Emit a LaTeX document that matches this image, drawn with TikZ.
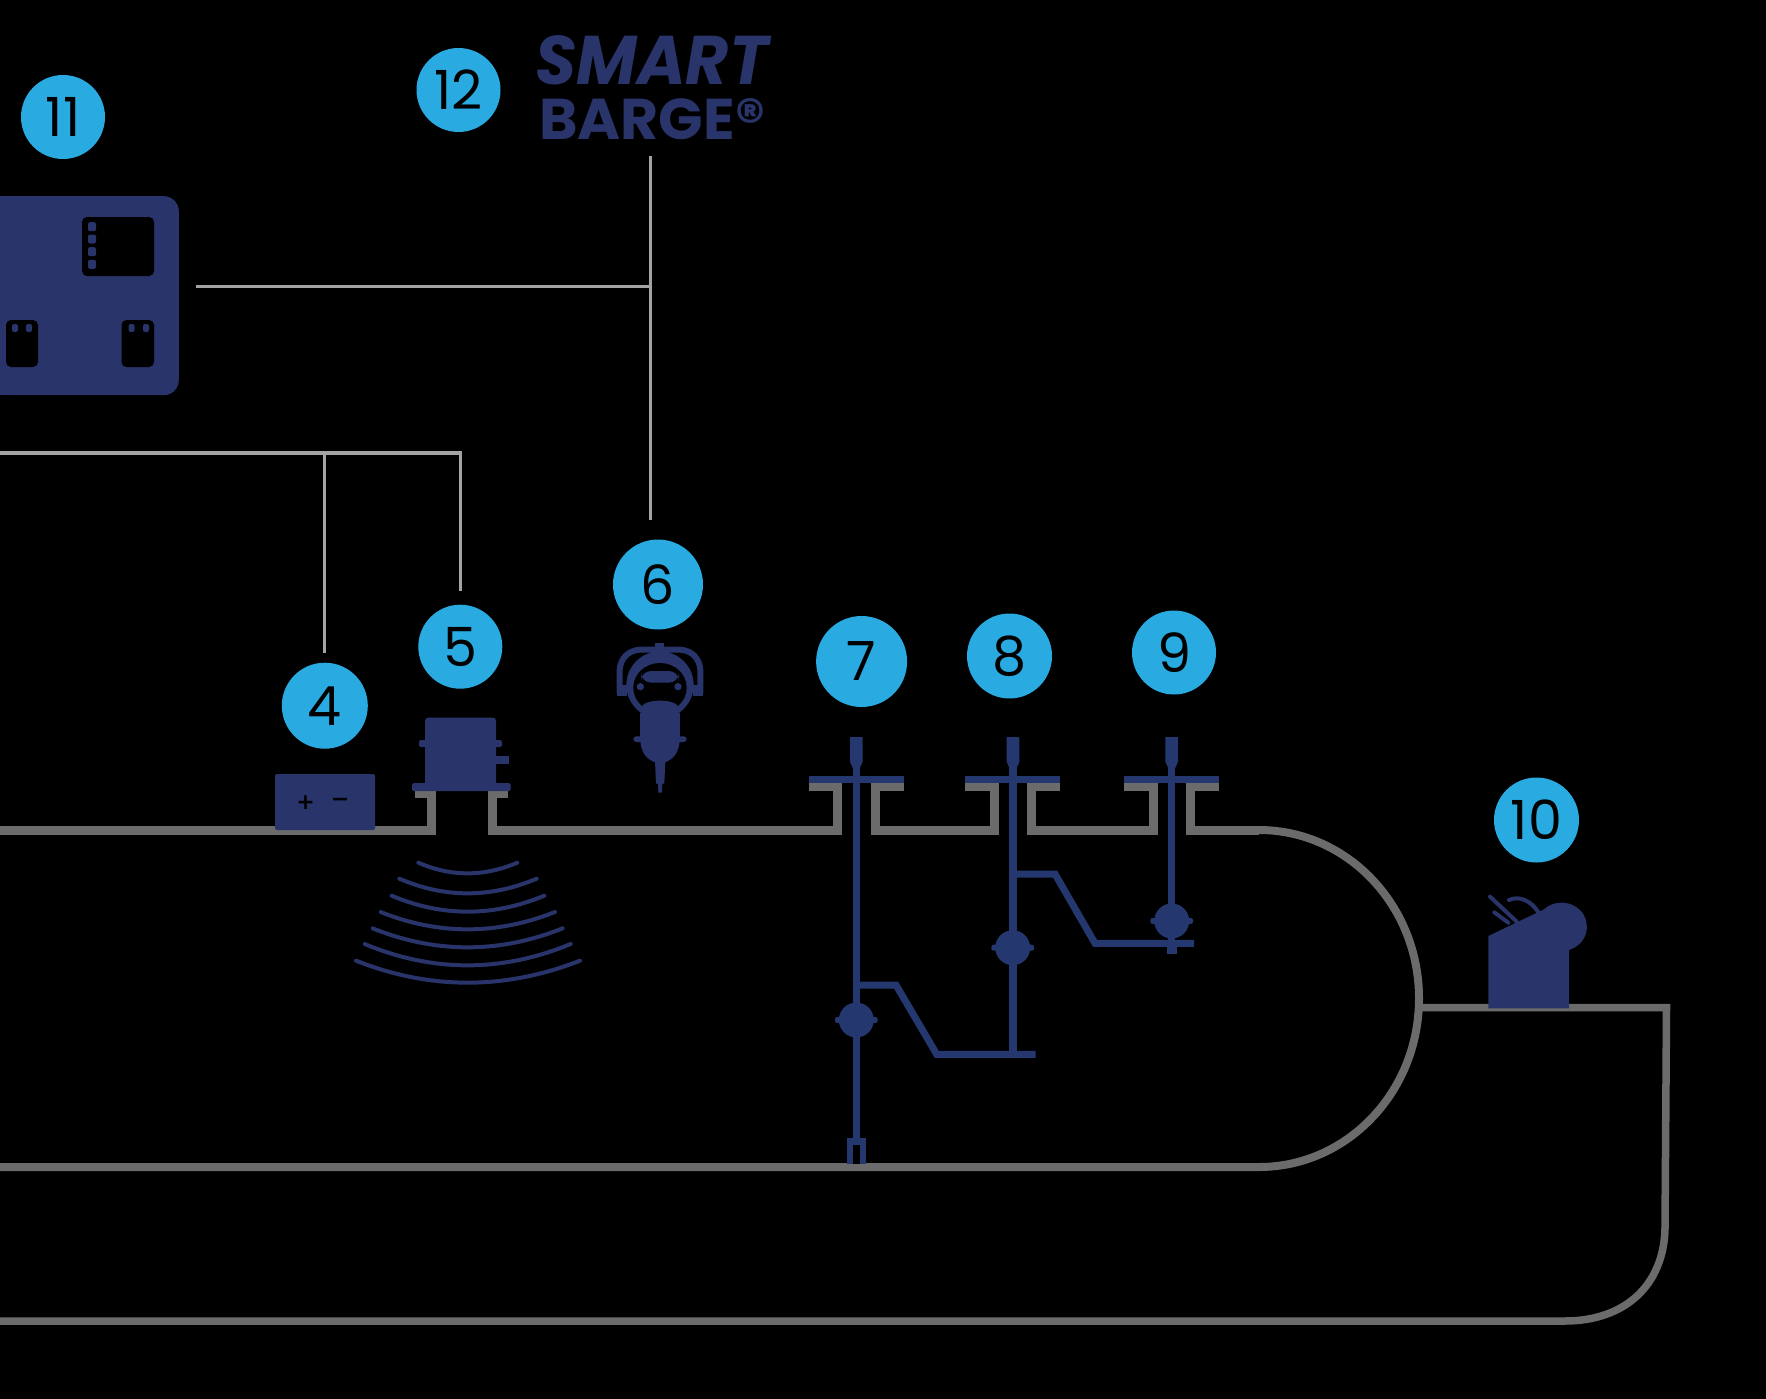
\documentclass[tikz,border=0pt]{standalone}
\usepackage{graphicx}
\usepackage{fontspec}
\setmainfont{Poppins}
\newfontfamily\symfont{DejaVu Sans}
\definecolor{navy}{HTML}{28346A}
\definecolor{rodblue}{HTML}{25376F}
\definecolor{cyanb}{HTML}{29ABE2}
\definecolor{hullgray}{HTML}{6B6B6B}
\definecolor{linkgray}{HTML}{A3A3A3}
\tikzset{
  badge/.style={circle,fill=cyanb,inner sep=0pt,text=black,font=\fontsize{#1}{#1}\selectfont},
  badge/.default=54,
  link/.style={draw=linkgray,line width=3.2pt},
  hull/.style={draw=hullgray,line width=9pt,miter limit=10},
  hullthin/.style={draw=hullgray,line width=7.5pt},
  rod/.style={draw=rodblue,line width=7.5pt},
  rodthin/.style={draw=rodblue,line width=7pt},
  wave/.style={draw=navy,line width=4pt,line cap=round},
  navyfill/.style={fill=navy,draw=none},
  hole/.style={fill=black,draw=none,rounded corners=5pt},
  pip/.style={fill=navy,draw=none,rounded corners=2pt},
  logotext/.style={inner sep=0pt,text=navy,font=\fontsize{60}{60}\selectfont\bfseries},
}
\newcommand{\ballvalve}[2]{%
  \fill[rodblue] (#1,#2) circle (17.5pt);
  \fill[rodblue,rounded corners=2pt] ({#1-21.3},{#2-3}) rectangle ({#1+21.3},{#2+3});
}
\begin{document}
\begin{tikzpicture}[x=1pt,y=-1pt]
\useasboundingbox (0,0) rectangle (1766,1399);
\fill[black] (0,0) rectangle (1766,1399);

% lower hull
\draw[hullthin] (1419,1007.5) -- (1666.5,1007.5) -- (1665,1228)
  .. controls (1664,1285) and (1625,1321) .. (1565,1321) -- (0,1321);
% tank
\draw[hull] (0,830) -- (431,830) -- (431,793) -- (415,793);
\draw[hull] (508,793) -- (492,793) -- (492,830) -- (837.5,830) -- (837.5,786) -- (809,786);
\draw[hull] (903.7,786) -- (875.5,786) -- (875.5,830) -- (994,830) -- (994,786) -- (965,786);
\draw[hull] (1060,786) -- (1031,786) -- (1031,830) -- (1153,830) -- (1153,786) -- (1124,786);
\draw[hull] (1218.7,786) -- (1190,786) -- (1190,830) -- (1259,830);
\draw[hullgray,line width=8pt] (1259,830) arc[start angle=90,end angle=-90,x radius=160,y radius=-168.5]
  -- (0,1167);

% controller
\node[navyfill,rounded corners=15pt,minimum width=178.6pt,minimum height=199pt,inner sep=0pt,anchor=north west] (ctrl) at (0,196) {};
\fill[navy] (0,196) rectangle (30,395);
\fill[hole] (82,217) rectangle (154,276);
\foreach \y in {226.7,239,251.7,264.3} \fill[pip] (88,\y-4.5) rectangle (96,\y+4.5);
\fill[hole] (6,320) rectangle (38,367);
\fill[hole] (121.5,320) rectangle (154,367);
\foreach \x in {15,29,131.6,146} \fill[pip] (\x-3,324) rectangle (\x+3,332);

% logo
\node[logotext,anchor=north west] (logoa) at (535,35) {\resizebox{233pt}{49pt}{\itshape SMART}};
\node[logotext,anchor=north west] (logob) at (539,98) {\resizebox{226pt}{41pt}{BARGE®}};

% badges
\node[badge,minimum size=84pt] (n11) at (63,117) {11};
\node[badge,minimum size=84pt] (n12) at (458.5,90) {12};
\node[badge,minimum size=90pt] (n6) at (658,584.5) {6};
\node[badge,minimum size=84pt] (n5) at (460.3,646.7) {5};
\node[badge,minimum size=86pt] (n4) at (324.8,705.7) {4};
\node[badge,minimum size=91pt] (n7) at (861.6,661.5) {7};
\node[badge,minimum size=85pt] (n8) at (1009.5,656) {8};
\node[badge,minimum size=84pt] (n9) at (1174,652.5) {9};
\node[badge,minimum size=85pt] (n10) at (1536.5,820) {10};

% links
\coordinate (j1) at (650.5,286.5);
\coordinate (left) at (0,453);
\coordinate (corner) at (n5.north |- left);
\coordinate (j2) at (n4.north |- left);
\draw[link,shorten <=16pt] (logob.south -| j1) -- (j1);
\draw[link,shorten >=19.5pt] (j1) -- (n6.north -| j1);
\draw[link,shorten <=17.4pt] (ctrl.east |- j1) -- (j1);
\draw[link,shorten >=13.5pt] (left) -- (corner) -- (n5.north);
\draw[link,shorten >=9.7pt] (j2) -- (n4.north);

% battery
\node[navyfill,rounded corners=2pt,minimum width=100pt,minimum height=56pt,inner sep=0pt] (batt) at (325,802) {};
\node[text=black,inner sep=0pt,font=\symfont\bfseries\fontsize{22}{22}\selectfont] (plus) at (305.7,802.7) {+};
\node[text=black,inner sep=0pt,font=\symfont\bfseries\fontsize{22}{22}\selectfont] (minus) at (340,802) {−};

% radar sensor
\fill[navy,rounded corners=3pt] (425,717.7) rectangle (496,787);
\fill[navy,rounded corners=1.5pt] (419,740) rectangle (502,747);
\fill[navy] (490,756) rectangle (508.7,764);
\fill[navy,rounded corners=1.5pt] (412,783) rectangle (510.7,791);

% radar waves
\begin{scope}[shift={(260,620)},x=1/3*1pt,y=-1/3*1pt]
\foreach \a/\y/\m/\v/\c in {475/728/622/760/772,418/776/622/820/830,395/827/622/875/853,362/876/622/928/885,338/925/622/982/908,314/972/622/1036/932,288/1022/622/1088/960}
  \draw[wave] ({\a},{\y}) .. controls ({\a+(\m-\a)*2/3},{\y+(\v-\y)*4/3}) and ({\c+(\m-\c)*2/3},{\y+(\v-\y)*4/3}) .. ({\c},{\y});
\end{scope}

% pressure gauge
\begin{scope}[shift={(605,635)},x=1/3*1pt,y=-1/3*1pt]
 \draw[navy,line width=6pt] (44,175) -- (44,105) .. controls (46,70) and (70,46) .. (105,44) -- (225,44)
   .. controls (260,46) and (284,70) .. (286,105) -- (286,175);
 \fill[navy] (150,24) rectangle (178,40);
 \fill[navy] (164,30) -- (125,62) -- (205,62) -- cycle;
 \fill[navy] (35,150) rectangle (66,182);
 \fill[navy] (264,150) rectangle (295,182);
 \fill[navy] (165,150) circle (101);
 \fill[navy] (105,235) rectangle (225,310);
 \fill[navy,rounded corners=3pt] (85,304) rectangle (245,321);
 \fill[navy] (105,300) .. controls (105,355) and (125,372) .. (150,382) -- (180,382)
   .. controls (205,372) and (225,355) .. (225,300) -- cycle;
 \fill[navy] (150,378) -- (181,378) -- (178,445) -- (172,447) -- (171,473) -- (160,473) -- (159,447) -- (153,445) -- cycle;
 \fill[black] (165,158) ellipse[x radius=80,y radius=74];
 \fill[navy,rounded corners=10pt] (108,108) rectangle (222,143);
 \fill[navy] (106,155) circle (11);
 \fill[navy] (219,155) circle (11);
 \fill[navy] (112,212) .. controls (125,192) and (205,192) .. (218,212)
   .. controls (215,225) and (200,232) .. (190,236) -- (140,236) .. controls (130,232) and (115,225) .. (112,212) -- cycle;
\end{scope}

% float gauges
\coordinate (r7t) at (856.3,737);
\coordinate (r7b) at (856.3,1146);
\coordinate (r8t) at (1013,737);
\coordinate (r8b) at (1013,1054.3);
\coordinate (r9t) at (1171.7,737);
\coordinate (r9b) at (1171.7,943);
\foreach \x/\w in {856.3/7,1013/7,1171.7/7}{
  \fill[rodblue] (\x-6.3,737) -- (\x-6.3,762) -- (\x-3,769) -- (\x+3,769) -- (\x+6.3,762) -- (\x+6.3,737) -- cycle;
}
\draw[rod] (r7t) -- (r7b);
\draw[rod] (r8t) -- (r8b);
\draw[rod] (r9t) -- (r9b);
\fill[rodblue] (809,775.5) rectangle (903.7,782.5);
\fill[rodblue] (965,775.5) rectangle (1060,782.5);
\fill[rodblue] (1124,775.5) rectangle (1218.7,782.5);
\draw[rodthin,line join=miter] (856.3,985) -- (896,985) -- (936.7,1054.3) -- (1035.7,1054.3);
\draw[rodthin,line join=miter] (1013,874) -- (1055,874) -- (1095,943.3) -- (1194,943.3);
\ballvalve{856.3}{1020}
\ballvalve{1012.7}{947.7}
\ballvalve{1171.7}{921}
\fill[rodblue] (1166.7,943) rectangle (1176.7,953.5);
\fill[rodblue] (847,1138) rectangle (866,1164);
\fill[black] (853,1145) rectangle (860,1164);

% gate valve at stern
\begin{scope}[shift={(1440,850)},x=1/3*1pt,y=-1/3*1pt]
 \draw[navy,line width=4pt,line cap=round] (150,140) -- (230,215);
 \draw[navy,line width=4pt,line cap=round] (163,187) -- (205,218);
 \draw[navy,line width=4pt,line cap=round] (207,150) .. controls (240,135) and (275,155) .. (295,187);
 \fill[navy] (145,258) -- (312,178) .. controls (335,155) and (380,150) .. (410,172)
   .. controls (445,195) and (450,245) .. (425,275) .. controls (412,290) and (400,295) .. (387,300)
   -- (387,475) -- (145,475) -- cycle;
\end{scope}
\end{tikzpicture}
\end{document}
